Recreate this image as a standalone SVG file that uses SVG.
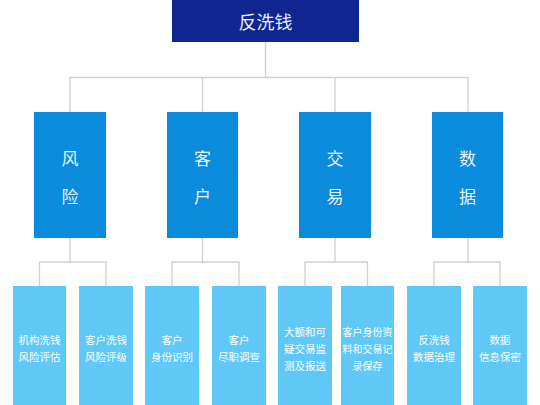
<svg xmlns="http://www.w3.org/2000/svg" width="540" height="405" viewBox="0 0 540 405">
<style>
.conn{fill:none;stroke:#c9d1d9;stroke-width:1.3}
.top{fill:#0f2590}
.mid{fill:#0a8bdc}
.leaf{fill:#5fc8f7}
text{font-family:"Noto Sans CJK SC","Noto Sans",sans-serif;text-anchor:middle;dominant-baseline:central}
.t0{fill:#e8f0ff;font-size:18px}
.t1{fill:#e6f6ff;font-size:17px}
.t2{fill:#ffffff;font-size:10.5px}
.t3{fill:#ffffff;font-size:10px}
</style>
<rect width="540" height="405" fill="#ffffff"/>
<g id="connectors">
<path class="conn" d="M265.5 42V77.5M70 112V77.5H468V112M202.5 77.5V112M335 77.5V112"/>
<path class="conn" d="M70 238V262M39.5 286V262H106V286"/>
<path class="conn" d="M202.5 238V262M172 286V262H239V286"/>
<path class="conn" d="M335 238V262M305 286V262H367.5V286"/>
<path class="conn" d="M468 238V262M434 286V262H500V286"/>
</g>
<g id="n-root"><rect class="top" x="172" y="0" width="187" height="42"/><text class="t0" x="265.5" y="21">反洗钱</text></g>
<g id="n-risk"><rect class="mid" x="34" y="112" width="72" height="126"/><text class="t1" x="70" y="157">风</text><text class="t1" x="70" y="195">险</text></g>
<g id="n-cust"><rect class="mid" x="167" y="112" width="71" height="126"/><text class="t1" x="202.5" y="157">客</text><text class="t1" x="202.5" y="195">户</text></g>
<g id="n-trade"><rect class="mid" x="299" y="112" width="72" height="126"/><text class="t1" x="335" y="157">交</text><text class="t1" x="335" y="195">易</text></g>
<g id="n-data"><rect class="mid" x="432" y="112" width="71" height="126"/><text class="t1" x="467.5" y="157">数</text><text class="t1" x="467.5" y="195">据</text></g>
<g id="n-l1"><rect class="leaf" x="13" y="286" width="53" height="119"/><text class="t2" x="39.5" y="339">机构洗钱</text><text class="t2" x="39.5" y="356">风险评估</text></g>
<g id="n-l2"><rect class="leaf" x="79" y="286" width="54" height="119"/><text class="t2" x="106" y="339">客户洗钱</text><text class="t2" x="106" y="356">风险评级</text></g>
<g id="n-l3"><rect class="leaf" x="145" y="286" width="54" height="119"/><text class="t2" x="172" y="339">客户</text><text class="t2" x="172" y="356">身份识别</text></g>
<g id="n-l4"><rect class="leaf" x="212" y="286" width="54" height="119"/><text class="t2" x="239" y="339">客户</text><text class="t2" x="239" y="356">尽职调查</text></g>
<g id="n-l5"><rect class="leaf" x="278" y="286" width="54" height="119"/><text class="t2" x="305" y="331">大额和可</text><text class="t2" x="305" y="348">疑交易监</text><text class="t2" x="305" y="365">测及报送</text></g>
<g id="n-l6"><rect class="leaf" x="341" y="286" width="53" height="119"/><text class="t3" x="367.5" y="331">客户身份资</text><text class="t3" x="367.5" y="348">料和交易记</text><text class="t3" x="367.5" y="365">录保存</text></g>
<g id="n-l7"><rect class="leaf" x="407" y="286" width="54" height="119"/><text class="t2" x="434" y="339">反洗钱</text><text class="t2" x="434" y="356">数据治理</text></g>
<g id="n-l8"><rect class="leaf" x="473" y="286" width="54" height="119"/><text class="t2" x="500" y="339">数据</text><text class="t2" x="500" y="356">信息保密</text></g>
</svg>
